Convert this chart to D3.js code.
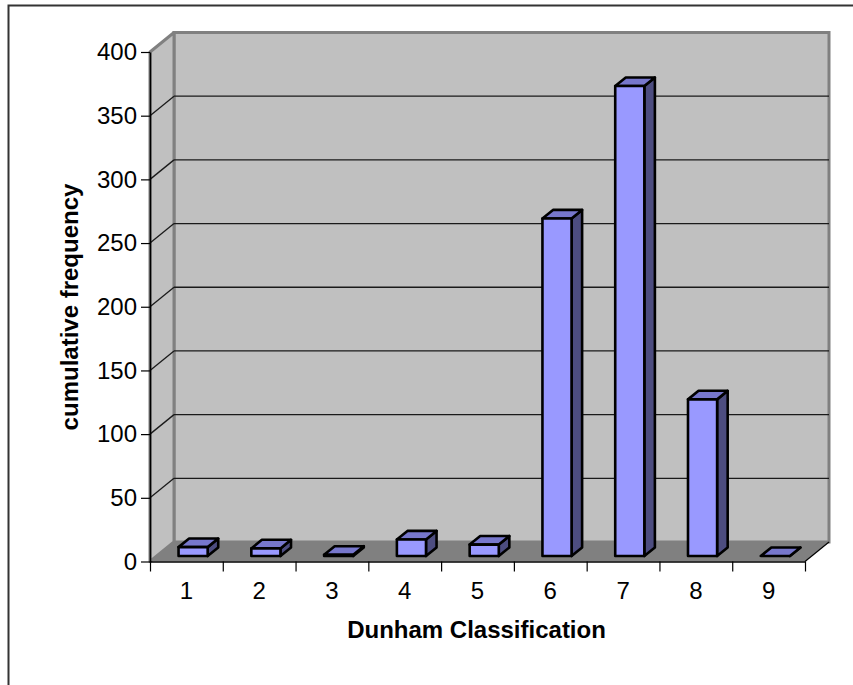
<!DOCTYPE html>
<html>
<head>
<meta charset="utf-8">
<script src="https://cdn.jsdelivr.net/npm/d3@7"></script>
<style>
  html, body { margin: 0; padding: 0; background: #fff; }
  svg { display: block; }
  text { font-family: "Liberation Sans", Arial, sans-serif; fill: #000; }
</style>
</head>
<body>
<svg id="chart" width="853" height="685"></svg>
<script>
// Dunham classification counts
const categories = ["1", "2", "3", "4", "5", "6", "7", "8", "9"];
const frequency = [7, 6, 1, 13, 9, 265, 369, 123, 0];
const yTicks = [0, 50, 100, 150, 200, 250, 300, 350, 400];
const xTitle = "Dunham Classification";
const yTitle = "cumulative frequency";

const svg = d3.select("#chart");

// plot frame (front plane) and 3D depth offset
const plotLeft = 150, plotRight = 805, plotTop = 52, plotBottom = 561.5;
const DX = 24, DY = -19.5;          // offset from front plane to back wall
const T0 = 0.28, T1 = 0.72;         // bar depth span as fraction of floor depth

const x = d3.scaleBand().domain(categories).range([plotLeft, plotRight])
  .paddingInner(0.6).paddingOuter(0.3);
const xEdges = d3.scaleLinear().domain([0, categories.length]).range([plotLeft, plotRight]);
const y = d3.scaleLinear().domain([0, 400]).range([plotBottom, plotTop]);

// outer chart border
svg.append("rect")
  .attr("x", 8.5).attr("y", 5.5).attr("width", 900).attr("height", 900)
  .attr("fill", "none").attr("stroke", "#333").attr("stroke-width", 2);

const wallStroke = "#808080";

// back wall
svg.append("rect")
  .attr("x", plotLeft + DX).attr("y", plotTop + DY)
  .attr("width", plotRight - plotLeft).attr("height", plotBottom - plotTop)
  .attr("fill", "#c0c0c0").attr("stroke", wallStroke).attr("stroke-width", 3);

// side wall
svg.append("polygon")
  .attr("points", [[plotLeft, plotTop], [plotLeft + DX, plotTop + DY], [plotLeft + DX, plotBottom + DY], [plotLeft, plotBottom]].join(" "))
  .attr("fill", "#c0c0c0").attr("stroke", wallStroke).attr("stroke-width", 3)
  .attr("stroke-linejoin", "round");

// floor
svg.append("polygon")
  .attr("points", [[plotLeft, plotBottom], [plotRight, plotBottom], [plotRight + DX, plotBottom + DY], [plotLeft + DX, plotBottom + DY]].join(" "))
  .attr("fill", "#808080");
svg.append("line")
  .attr("x1", plotRight).attr("y1", plotBottom).attr("x2", plotRight + DX).attr("y2", plotBottom + DY)
  .attr("stroke", "#000").attr("stroke-width", 1.2);

// gridlines on back and side walls
const grid = svg.append("g").attr("stroke", "#1a1a1a").attr("stroke-width", 1.3);
yTicks.filter(v => v > 0 && v < 400).forEach(v => {
  grid.append("line")
    .attr("x1", plotLeft + DX).attr("y1", y(v) + DY)
    .attr("x2", plotRight + DX).attr("y2", y(v) + DY);
  grid.append("line")
    .attr("x1", plotLeft).attr("y1", y(v))
    .attr("x2", plotLeft + DX).attr("y2", y(v) + DY);
});

// bars
const colFront = "#9999ff", colSide = "#4d4d80", colTop = "#7777cc";
const bars = svg.append("g")
  .attr("stroke", "#000").attr("stroke-width", 2.6).attr("stroke-linejoin", "round");
const w = x.bandwidth();
const d = T1 - T0;
categories.forEach((c, i) => {
  const v = frequency[i];
  const x0 = x(c) + T0 * DX, x1 = x0 + w;
  const yT = y(v) + T0 * DY, yB = y(0) + T0 * DY;
  const ox = d * DX, oy = d * DY;
  const g = bars.append("g");
  g.append("polygon")
    .attr("points", [[x1, yB], [x1, yT], [x1 + ox, yT + oy], [x1 + ox, yB + oy]].join(" "))
    .attr("fill", colSide);
  g.append("polygon")
    .attr("points", [[x0, yT], [x1, yT], [x1 + ox, yT + oy], [x0 + ox, yT + oy]].join(" "))
    .attr("fill", colTop);
  g.append("rect")
    .attr("x", x0).attr("y", yT).attr("width", w).attr("height", Math.max(0, yB - yT))
    .attr("fill", colFront);
});

// y axis
const yAxis = svg.append("g")
  .attr("transform", `translate(${plotLeft},0)`)
  .call(d3.axisLeft(y).tickValues(yTicks).tickSize(9).tickSizeOuter(0).tickPadding(4));
yAxis.select(".domain").attr("stroke", "#000").attr("stroke-width", 1.6);
yAxis.selectAll(".tick line").attr("stroke", "#000").attr("stroke-width", 1.2);
yAxis.selectAll(".tick text")
  .attr("font-family", "Liberation Sans, Arial, sans-serif")
  .attr("font-size", 24).attr("fill", "#000");

// x axis: ticks on category boundaries, labels at category centres
const xAxis = svg.append("g")
  .attr("transform", `translate(0,${plotBottom})`)
  .call(d3.axisBottom(xEdges).tickValues(d3.range(categories.length + 1))
    .tickSize(10).tickSizeOuter(0).tickFormat(""));
xAxis.select(".domain").attr("stroke", "#000").attr("stroke-width", 1.6);
xAxis.selectAll(".tick line").attr("stroke", "#000").attr("stroke-width", 1.2);
svg.append("g").selectAll("text")
  .data(categories).join("text")
  .attr("x", c => x(c) + w / 2)
  .attr("y", 599)
  .attr("text-anchor", "middle")
  .attr("font-size", 24)
  .text(c => c);

// axis titles
svg.append("text")
  .attr("x", 476.5).attr("y", 638)
  .attr("text-anchor", "middle")
  .attr("font-size", 24).attr("font-weight", "bold")
  .text(xTitle);
svg.append("text")
  .attr("transform", "translate(78,307) rotate(-90)")
  .attr("text-anchor", "middle")
  .attr("font-size", 24).attr("font-weight", "bold")
  .text(yTitle);
</script>
</body>
</html>
